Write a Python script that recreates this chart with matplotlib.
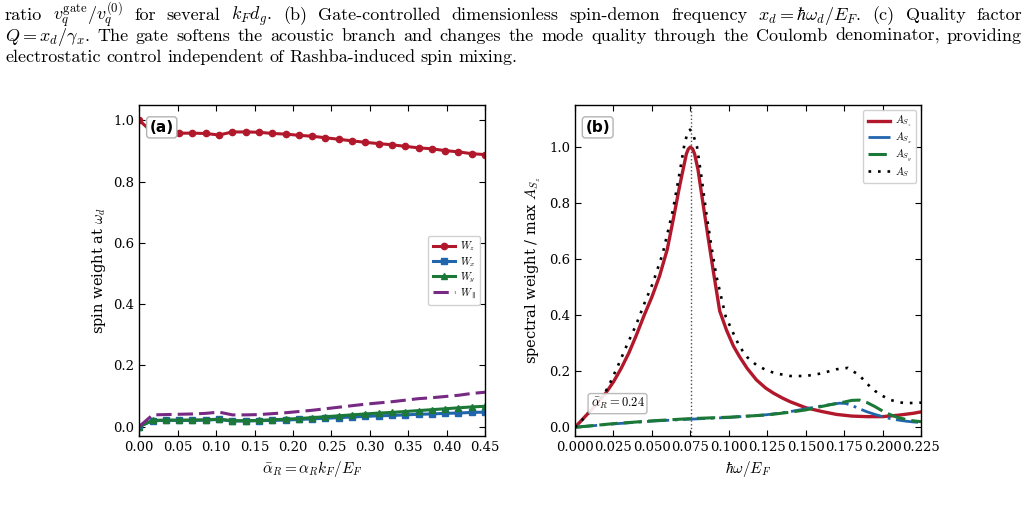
import re
import matplotlib
matplotlib.use("Agg")
import matplotlib.pyplot as plt

plt.rcParams['font.family'] = ['DejaVu Serif']
plt.rcParams['mathtext.fontset'] = 'cm'

# ---- panel (a): spin weights vs Rashba strength ----
alpha_r = [0.0000, 0.0173, 0.0346, 0.0519, 0.0692, 0.0865, 0.1038, 0.1212, 0.1385,
           0.1558, 0.1731, 0.1904, 0.2077, 0.2250, 0.2423, 0.2596, 0.2769, 0.2942,
           0.3115, 0.3288, 0.3462, 0.3635, 0.3808, 0.3981, 0.4154, 0.4327, 0.4500]
w_z = [1.000, 0.960, 0.958, 0.958, 0.958, 0.957, 0.952, 0.962, 0.962, 0.961, 0.957,
       0.955, 0.951, 0.948, 0.943, 0.938, 0.933, 0.928, 0.924, 0.920, 0.915, 0.910,
       0.907, 0.901, 0.897, 0.891, 0.888]
w_x = [0.000, 0.019, 0.020, 0.020, 0.020, 0.021, 0.023, 0.018, 0.018, 0.019, 0.020,
       0.021, 0.023, 0.025, 0.027, 0.029, 0.031, 0.033, 0.035, 0.036, 0.038, 0.040,
       0.041, 0.043, 0.044, 0.046, 0.047]
w_y = [0.000, 0.020, 0.021, 0.021, 0.021, 0.022, 0.024, 0.019, 0.019, 0.020, 0.022,
       0.024, 0.026, 0.029, 0.032, 0.035, 0.038, 0.041, 0.044, 0.046, 0.049, 0.052,
       0.055, 0.058, 0.061, 0.064, 0.066]
w_par = [0.000, 0.038, 0.039, 0.040, 0.041, 0.043, 0.047, 0.038, 0.038, 0.039, 0.042,
         0.045, 0.049, 0.053, 0.058, 0.063, 0.068, 0.073, 0.077, 0.081, 0.086, 0.091,
         0.094, 0.098, 0.102, 0.108, 0.112]

# ---- panel (b): spectral weights ----
om_z = [0, 0.006, 0.0126, 0.02, 0.025, 0.03, 0.035, 0.04, 0.045, 0.05, 0.055,
        0.06, 0.064, 0.068, 0.0724, 0.0737, 0.075, 0.0765, 0.0778, 0.08, 0.0832,
        0.0865, 0.0898, 0.0941, 0.0985, 0.103, 0.107, 0.112, 0.118, 0.124, 0.129,
        0.135, 0.14, 0.15, 0.16, 0.17, 0.18, 0.19, 0.2, 0.21, 0.22, 0.225]
a_sz = [0, 0.035, 0.074, 0.122, 0.162, 0.21, 0.265, 0.33, 0.4, 0.465, 0.54,
        0.635, 0.745, 0.86, 0.975, 0.993, 1.0, 0.993, 0.975, 0.919, 0.8,
        0.68, 0.562, 0.415, 0.347, 0.29, 0.252, 0.21, 0.169, 0.14, 0.122,
        0.104, 0.091, 0.07, 0.057, 0.046, 0.04, 0.038, 0.038, 0.043, 0.05, 0.055]
om_s = [0, 0.0082, 0.015, 0.0213, 0.0278, 0.0343, 0.0397, 0.0452, 0.0506, 0.0571,
        0.0637, 0.068, 0.0713, 0.0731, 0.0748, 0.0765, 0.0793, 0.0822, 0.0854, 0.0887,
        0.092, 0.098, 0.103, 0.107, 0.112, 0.118, 0.124, 0.13, 0.14, 0.15, 0.16, 0.17,
        0.1775, 0.185, 0.19, 0.195, 0.2, 0.205, 0.21, 0.215, 0.22, 0.225]
a_s = [0, 0.046, 0.09, 0.14, 0.218, 0.3, 0.365, 0.443, 0.514, 0.621,
       0.776, 0.907, 1.014, 1.048, 1.062, 1.05, 1.002, 0.895, 0.764, 0.645,
       0.538, 0.395, 0.335, 0.288, 0.25, 0.222, 0.205, 0.193, 0.183, 0.183, 0.192, 0.207,
       0.212, 0.185, 0.155, 0.13, 0.112, 0.098, 0.09, 0.086, 0.087, 0.088]
om_x = [0, 0.025, 0.05, 0.075, 0.1, 0.125, 0.14, 0.15, 0.16, 0.166, 0.172, 0.176,
        0.18, 0.185, 0.19, 0.195, 0.2, 0.205, 0.21, 0.215, 0.22, 0.225]
a_sx = [0, 0.012, 0.022, 0.029, 0.035, 0.045, 0.056, 0.066, 0.076, 0.081, 0.086, 0.085,
        0.078, 0.066, 0.055, 0.046, 0.038, 0.031, 0.026, 0.022, 0.019, 0.017]
om_y = [0, 0.025, 0.05, 0.075, 0.1, 0.125, 0.14, 0.15, 0.16, 0.17, 0.175, 0.18,
        0.185, 0.19, 0.195, 0.2, 0.205, 0.21, 0.215, 0.22, 0.225]
a_sy = [0, 0.013, 0.023, 0.031, 0.036, 0.044, 0.054, 0.062, 0.074, 0.085, 0.09, 0.096,
        0.097, 0.088, 0.074, 0.058, 0.045, 0.035, 0.028, 0.023, 0.02]
omega_d = 0.0752

caption = [
    r"ratio $v_q^{\rm gate}/v_q^{(0)}$ for several $k_F d_g$.  (b) Gate-controlled dimensionless spin-demon frequency $x_d = \hbar\omega_d/E_F$.  (c) Quality factor",
    r"$Q = x_d/\gamma_x$. The gate softens the acoustic branch and changes the mode quality through the Coulomb denominator, providing",
    r"electrostatic control independent of Rashba-induced spin mixing.",
]

red, blue, green, purple = '#b2182b', '#2166ac', '#1b7837', '#762a83'

W, H = 1028, 515
fig = plt.figure(figsize=(W / 100, H / 100), dpi=100)

# caption, justified word by word
renderer = fig.canvas.get_renderer()
x_left, x_right = 5, 1022
baselines = [20, 41, 62]
for i, line in enumerate(caption):
    words = re.findall(r'(?:\$[^$]*\$|[^\s$])+', line)
    texts = [fig.text(0, 1 - baselines[i] / H, w, fontsize=13, va='baseline',
                      family='cmr10') for w in words]
    widths = [t.get_window_extent(renderer).width for t in texts]
    if i < len(caption) - 1:
        gap = max((x_right - x_left - sum(widths)) / (len(words) - 1), 3)
    else:
        gap = 5.5
    x = x_left
    for t, w in zip(texts, widths):
        t.set_x(x / W)
        x += w + gap

ax1 = fig.add_axes([139.3 / W, 1 - 435.7 / H, 345.7 / W, 330.7 / H])
ax2 = fig.add_axes([575 / W, 1 - 435.7 / H, 346 / W, 330.7 / H])

ms = 4.5
ax1.plot(alpha_r, w_z, color=red, lw=2.2, marker='o', ms=ms, label=r'$W_z$')
ax1.plot(alpha_r, w_x, color=blue, lw=2.2, marker='s', ms=ms, label=r'$W_x$')
ax1.plot(alpha_r, w_y, color=green, lw=2.2, marker='^', ms=ms, label=r'$W_y$')
ax1.plot(alpha_r, w_par, color=purple, lw=2.2, ls=(0, (5, 2)), label=r'$W_\parallel$')
ax1.set_xlim(0, 0.45)
ax1.set_ylim(-0.03, 1.05)
ax1.set_xticks([0, 0.05, 0.1, 0.15, 0.2, 0.25, 0.3, 0.35, 0.4, 0.45])
ax1.set_yticks([0, 0.2, 0.4, 0.6, 0.8, 1.0])
ax1.set_xlabel(r'$\bar{\alpha}_R = \alpha_R k_F / E_F$', fontsize=11)
ax1.set_ylabel(r'spin weight at $\omega_d$', fontsize=10.5)
ax1.legend(loc='center right', fontsize=7.5, handlelength=2.2, borderpad=0.4,
           labelspacing=0.15, handletextpad=0.4, framealpha=0.9, edgecolor='0.8')
ax1.text(0.03, 0.955, '(a)', transform=ax1.transAxes, ha='left', va='top',
         fontsize=11, fontweight='bold', family='DejaVu Sans',
         bbox=dict(boxstyle='round,pad=0.2', fc='white', ec='0.7'))

ax2.plot(om_z, a_sz, color=red, lw=2.4, label=r'$A_{S_z}$')
ax2.plot(om_x, a_sx, color=blue, lw=2.0, ls=(0, (8, 2, 1, 2)), label=r'$A_{S_x}$')
ax2.plot(om_y, a_sy, color=green, lw=2.2, ls=(0, (6, 2)), label=r'$A_{S_y}$')
ax2.plot(om_s, a_s, color='black', lw=1.9, ls=(0, (1, 2.6)), label=r'$A_S$')
ax2.axvline(omega_d, color='0.3', ls=':', lw=1)
ax2.set_xlim(0, 0.225)
ax2.set_ylim(-0.03, 1.15)
ax2.set_xticks([0, 0.025, 0.05, 0.075, 0.1, 0.125, 0.15, 0.175, 0.2, 0.225])
ax2.set_xticklabels(['0.000', '0.025', '0.050', '0.075', '0.100', '0.125', '0.150',
                     '0.175', '0.200', '0.225'])
ax2.set_yticks([0, 0.2, 0.4, 0.6, 0.8, 1.0])
ax2.set_xlabel(r'$\hbar\omega / E_F$', fontsize=11)
ax2.set_ylabel(r'spectral weight / max $A_{S_z}$', fontsize=10.5)
ax2.legend(loc='upper right', fontsize=7.5, handlelength=2.2, borderpad=0.4,
           labelspacing=0.15, handletextpad=0.4, framealpha=0.9, edgecolor='0.8')
ax2.text(0.03, 0.955, '(b)', transform=ax2.transAxes, ha='left', va='top',
         fontsize=11, fontweight='bold', family='DejaVu Sans',
         bbox=dict(boxstyle='round,pad=0.2', fc='white', ec='0.7'))
ax2.text(0.045, 0.097, r'$\bar{\alpha}_R = 0.24$', transform=ax2.transAxes,
         ha='left', va='center', fontsize=9, zorder=10,
         bbox=dict(boxstyle='round,pad=0.2', fc='white', ec='0.7', alpha=0.9))

for ax in (ax1, ax2):
    ax.tick_params(direction='in', top=True, right=True, length=4, labelsize=9.5)
    for s in ax.spines.values():
        s.set_linewidth(1.0)

fig.savefig('out.png', dpi=100)
